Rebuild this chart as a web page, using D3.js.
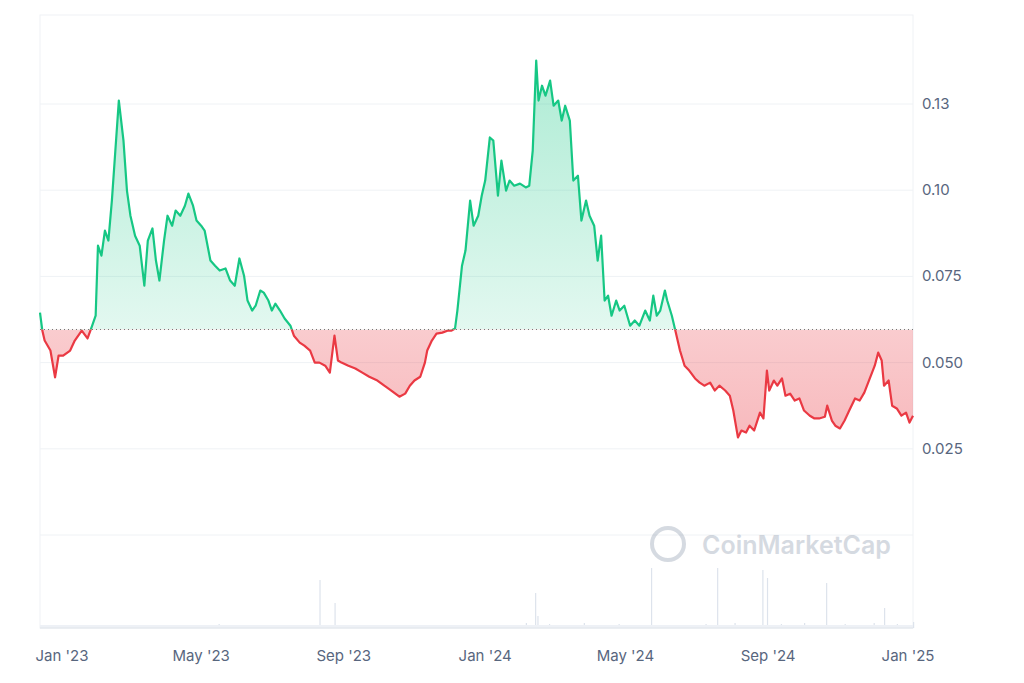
<!DOCTYPE html><html><head><meta charset="utf-8">
<script src="https://cdn.jsdelivr.net/npm/d3@7"></script>
<style>body{margin:0;background:#fff;font-family:Inter,"Noto Sans",sans-serif}</style></head><body><svg id="c" width="1024" height="683"></svg>
<script>
const startDate = "2023-01-01";
const dayOffsets=[-19,-17,-15,-10,-6,-3,1,7,11,17,22,26,29,31,34,37,40,43,46,49,53,56,59,63,67,71,74,78,81,84,88,91,95,98,102,106,109,113,116,120,123,128,132,136,141,145,149,153,157,160,164,167,171,174,178,181,184,188,192,197,200,205,209,214,218,222,227,231,235,238,241,247,253,259,265,272,278,284,291,296,300,304,309,313,315,319,323,328,333,336,339,341,345,348,352,355,359,362,365,369,372,376,379,383,386,390,395,400,403,406,409,411,414,417,421,424,428,431,434,438,441,445,448,452,455,459,462,465,468,471,474,478,481,485,490,494,498,503,507,510,513,516,520,522,526,529,533,537,541,546,550,554,559,563,567,572,576,579,583,586,590,593,597,602,605,608,610,614,617,621,624,628,632,636,640,645,649,653,658,660,664,667,671,675,679,684,688,692,696,701,704,707,709,713,716,720,724,728,731,734];
const prices=[.0645,.0593,.0564,.0535,.0457,.052,.052,.0535,.0564,.0593,.057,.0607,.0636,.0839,.081,.0883,.0854,.097,.1115,.126,.1144,.0999,.0926,.0868,.0839,.0723,.0854,.0889,.0796,.0738,.0854,.0926,.0897,.0941,.0926,.0955,.099,.0955,.0912,.0897,.0883,.0796,.0781,.0767,.0773,.0738,.0723,.0802,.0752,.068,.0651,.0665,.0709,.0703,.068,.0651,.0671,.0651,.0628,.0607,.0578,.0558,.0549,.0535,.05,.05,.0491,.0471,.0578,.0506,.05,.0491,.0483,.0471,.0459,.0448,.0433,.0419,.0401,.041,.0433,.0448,.0459,.05,.0535,.0564,.0584,.0587,.0593,.0593,.0599,.0651,.0781,.0825,.097,.0897,.0926,.0984,.1028,.1153,.1144,.0984,.1086,.0999,.1028,.1013,.1019,.1008,.1013,.1115,.1376,.126,.1303,.1274,.1318,.1245,.126,.1202,.1245,.1202,.1028,.1042,.0912,.097,.0926,.0897,.0796,.0868,.068,.0694,.0636,.068,.0651,.0665,.0607,.0622,.0607,.0651,.0622,.0694,.0636,.0651,.0709,.068,.0636,.0593,.0535,.0491,.0477,.0454,.0442,.0433,.0442,.0419,.0433,.0419,.0404,.0361,.0283,.0303,.0297,.0317,.0303,.0355,.0338,.0477,.0419,.0448,.0433,.0454,.0404,.041,.039,.0396,.0361,.0346,.0338,.0338,.0343,.0375,.0332,.0317,.0309,.0332,.0361,.0396,.039,.0413,.0448,.0491,.0529,.0506,.0433,.0448,.0375,.0367,.0346,.0355,.0326,.0346];
const baselinePrice=0.0596;
const volDays=[-19,-12,-5,5,15,25,40,55,70,85,100,110,120,135,150,165,180,195,206,215,222,235,250,270,285,300,315,330,345,360,375,390,400,408,410,420,435,450,465,480,495,508,525,540,555,565,580,590,604,608,620,630,640,659,675,690,700,709,720,734];
const volumes=[3,2,2,3,2,2,3,2,3,2,3,2,3,4,3,3,2,3,3,2,48,25,3,2,3,3,2,3,2,2,3,3,5,35,12,4,3,5,3,4,2,60,3,3,4,60,5,3,58,50,4,3,5,45,4,3,5,20,4,6];
const yTicks=[0,0.025,0.05,0.075,0.1,0.125];
const yLabels=["","0.025","0.050","0.075","0.10","0.13"];
const xTickDates=["2023-01-01","2023-05-01","2023-09-01","2024-01-01","2024-05-01","2024-09-01","2025-01-01"];
const xTickLabels=["Jan '23","May '23","Sep '23","Jan '24","May '24","Sep '24","Jan '25"];

const svg=d3.select("#c");
const t0=new Date(startDate+"T00:00:00");
const dt=d=>d3.timeDay.offset(t0,Math.round(d));
const data=dayOffsets.map((d,i)=>({date:dt(d),v:prices[i]}));
const L=40,R=913,T=15,B=628;
const x=d3.scaleTime().domain([dt(-19),dt(734)]).range([L,R]);
const y=d3.scaleLinear().domain([0,0.125]).range([535,104]);
const yb=y(baselinePrice);
svg.append("rect").attr("x",L).attr("y",T).attr("width",R-L).attr("height",B-T).attr("fill","none").attr("stroke","#eff2f5");
svg.selectAll(".g").data(yTicks).join("line").attr("x1",L).attr("x2",R).attr("y1",d=>y(d)).attr("y2",d=>y(d)).attr("stroke","#eff2f5");
svg.selectAll(".yl").data(yTicks).join("text").attr("x",922).attr("y",d=>y(d)+5).attr("font-size",15).attr("fill","#58667e").text((d,i)=>yLabels[i]);
const vy=d3.scaleLinear().domain([0,100]).range([B,B-100]);
svg.append("g").selectAll("rect").data(volDays.map((d,i)=>({d:dt(d),v:volumes[i]}))).join("rect")
 .attr("x",d=>x(d.d)).attr("width",1.2).attr("y",d=>vy(d.v)).attr("height",d=>B-vy(d.v)).attr("fill","#dde3ec");
svg.append("rect").attr("x",L).attr("y",B-3).attr("width",R-L).attr("height",3).attr("fill","#eef1f6");
svg.append("line").attr("x1",L).attr("x2",R).attr("y1",B).attr("y2",B).attr("stroke","#e0e4ea");
const wm=svg.append("g").attr("opacity",0.35);
wm.append("circle").attr("cx",668).attr("cy",544).attr("r",16).attr("fill","none").attr("stroke","#8a96aa").attr("stroke-width",4);
wm.append("text").attr("x",702).attr("y",554).attr("font-size",25).attr("font-weight",600).attr("fill","#8a96aa").text("CoinMarketCap");
const defs=svg.append("defs");
const gg=defs.append("linearGradient").attr("id","gg").attr("x1",0).attr("x2",0).attr("y1",0).attr("y2",1);
gg.append("stop").attr("offset","0").attr("stop-color","#16c784").attr("stop-opacity",0.35);
gg.append("stop").attr("offset","1").attr("stop-color","#16c784").attr("stop-opacity",0.03);
const rg=defs.append("linearGradient").attr("id","rg").attr("x1",0).attr("x2",0).attr("y1",0).attr("y2",1);
rg.append("stop").attr("offset","0").attr("stop-color","#ea3943").attr("stop-opacity",0.03);
rg.append("stop").attr("offset","1").attr("stop-color","#ea3943").attr("stop-opacity",0.35);
defs.append("clipPath").attr("id","above").append("rect").attr("x",0).attr("y",0).attr("width",1024).attr("height",yb);
defs.append("clipPath").attr("id","below").append("rect").attr("x",0).attr("y",yb).attr("width",1024).attr("height",683);
const area=d3.area().x(d=>x(d.date)).y0(yb).y1(d=>y(d.v));
const line=d3.line().x(d=>x(d.date)).y(d=>y(d.v));
svg.append("path").datum(data).attr("d",area).attr("fill","url(#gg)").attr("clip-path","url(#above)");
svg.append("path").datum(data).attr("d",area).attr("fill","url(#rg)").attr("clip-path","url(#below)");
svg.append("line").attr("x1",L).attr("x2",R).attr("y1",yb).attr("y2",yb).attr("stroke","#777").attr("stroke-dasharray","1,3");
svg.append("path").datum(data).attr("d",line).attr("fill","none").attr("stroke","#16c784").attr("stroke-width",2.2).attr("stroke-linejoin","round").attr("clip-path","url(#above)");
svg.append("path").datum(data).attr("d",line).attr("fill","none").attr("stroke","#ea3943").attr("stroke-width",2.2).attr("stroke-linejoin","round").attr("clip-path","url(#below)");
svg.selectAll(".xl").data(xTickDates).join("text").attr("x",d=>Math.min(x(new Date(d+"T00:00:00")),908)).attr("y",661).attr("text-anchor","middle").attr("font-size",15).attr("fill","#58667e").text((d,i)=>xTickLabels[i]);
</script></body></html>
